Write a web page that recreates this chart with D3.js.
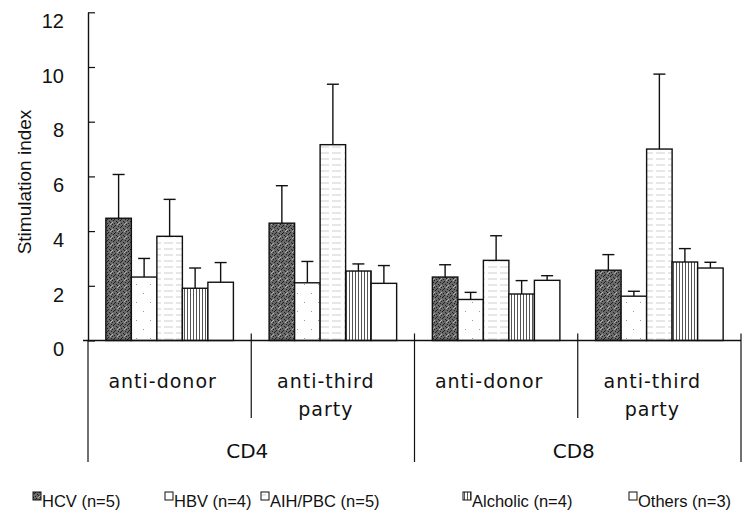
<!DOCTYPE html>
<html>
<head>
<meta charset="utf-8">
<script src="https://cdn.jsdelivr.net/npm/d3@7"></script>
<style>
  body { margin: 0; background: #fff; }
  svg { display: block; }
</style>
</head>
<body>
<div id="chart"></div>
<script>
//chart values
var markers = ["CD4", "CD8"];
var stimuli = ["anti-donor", "anti-third party"];
var stimulusLines = [["anti-donor"], ["anti-third", "party"]];
var seriesNames = ["HCV (n=5)", "HBV (n=4)", "AIH/PBC (n=5)", "Alcholic (n=4)", "Others (n=3)"];
var yTicks = [0, 2, 4, 6, 8, 10, 12];

//mean per cell: CD4 anti-donor, CD4 anti-third, CD8 anti-donor, CD8 anti-third
var meanHCV = [4.47, 4.29, 2.32, 2.57];
var meanHBV = [2.32, 2.11, 1.50, 1.62];
var meanAIH = [3.81, 7.16, 2.93, 7.00];
var meanAlc = [1.91, 2.54, 1.70, 2.87];
var meanOth = [2.13, 2.09, 2.20, 2.65];

//standard deviation (upper error bar)
var sdHCV = [1.60, 1.37, 0.45, 0.57];
var sdHBV = [0.68, 0.78, 0.26, 0.18];
var sdAIH = [1.35, 2.21, 0.90, 2.74];
var sdAlc = [0.74, 0.26, 0.49, 0.49];
var sdOth = [0.72, 0.65, 0.17, 0.21];

var means = [meanHCV, meanHBV, meanAIH, meanAlc, meanOth];
var sds = [sdHCV, sdHBV, sdAIH, sdAlc, sdOth];
var patternIds = ["pHCV", "pHBV", "pAIH", "pAlc", "pOth"];

//cell keys for the outer band scale
var cells = [];
markers.forEach(function(m){ stimuli.forEach(function(s){ cells.push(m + " " + s); }); });

var rows = [];
cells.forEach(function(c, i){
  seriesNames.forEach(function(s, j){
    rows.push({cell: c, series: s, k: j, mean: means[j][i], sd: sds[j][i]});
  });
});

var width = 755, height = 519;
var svg = d3.select("#chart").append("svg")
  .attr("width", width).attr("height", height)
  .style("font-family", "'Liberation Sans', Arial, sans-serif");

//fill patterns imitating the printed hatching
var defs = svg.append("defs");

var p1 = defs.append("pattern").attr("id", "pHCV").attr("patternUnits", "userSpaceOnUse")
  .attr("width", 7).attr("height", 7);
p1.append("rect").attr("width", 7).attr("height", 7).attr("fill", "#6a6a6a");
[[0,0],[3,1],[1,3],[4,4],[2,6],[6,2],[5,5],[2,2]].forEach(function(p){
  p1.append("rect").attr("x", p[0]).attr("y", p[1]).attr("width", 1).attr("height", 1).attr("fill", "#1e1e1e");
});
[[5,0],[0,5],[6,6]].forEach(function(p){
  p1.append("rect").attr("x", p[0]).attr("y", p[1]).attr("width", 1).attr("height", 1).attr("fill", "#b0b0b0");
});

var p2 = defs.append("pattern").attr("id", "pHBV").attr("patternUnits", "userSpaceOnUse")
  .attr("width", 14).attr("height", 18);
p2.append("rect").attr("width", 14).attr("height", 18).attr("fill", "#fff");
p2.append("rect").attr("x", 3).attr("y", 5).attr("width", 1).attr("height", 1).attr("fill", "#999");
p2.append("rect").attr("x", 10).attr("y", 14).attr("width", 1).attr("height", 1).attr("fill", "#999");

var p3 = defs.append("pattern").attr("id", "pAIH").attr("patternUnits", "userSpaceOnUse")
  .attr("width", 12).attr("height", 6);
p3.append("rect").attr("width", 12).attr("height", 6).attr("fill", "#fff");
p3.append("line").attr("x1", 0).attr("x2", 12).attr("y1", 3).attr("y2", 3)
  .attr("stroke", "#cfcfcf").attr("stroke-width", 1).attr("stroke-dasharray", "5,3");

var p4 = defs.append("pattern").attr("id", "pAlc").attr("patternUnits", "userSpaceOnUse")
  .attr("width", 3).attr("height", 3);
p4.append("rect").attr("width", 3).attr("height", 3).attr("fill", "#fff");
p4.append("rect").attr("x", 1).attr("width", 1).attr("height", 3).attr("fill", "#555");

defs.append("pattern").attr("id", "pOth").attr("patternUnits", "userSpaceOnUse")
  .attr("width", 4).attr("height", 4)
  .append("rect").attr("width", 4).attr("height", 4).attr("fill", "#fff");

//scales
var y = d3.scaleLinear().domain([0, 12]).range([340.5, 12.3]);
var x0 = d3.scaleBand().domain(cells).range([88, 741]).padding(0);
var x1 = d3.scaleBand().domain(seriesNames).range([0, x0.bandwidth()])
  .paddingInner(0).paddingOuter(0.7);

var base = y(0);

//y axis
var yAxis = svg.append("g")
  .attr("transform", "translate(88,0)")
  .call(d3.axisLeft(y).tickValues(yTicks).tickSize(-7).tickSizeOuter(0).tickPadding(24));
yAxis.select(".domain").attr("stroke", "#111").attr("stroke-width", 1.4);
yAxis.selectAll(".tick line").attr("stroke", "#111").attr("stroke-width", 1.2);
yAxis.selectAll(".tick text")
  .attr("dy", "0.76em")
  .attr("font-size", "20px")
  .attr("fill", "#111")
  .style("font-family", "'Liberation Sans', Arial, sans-serif");

svg.append("text")
  .attr("transform", "translate(31,182) rotate(-90)")
  .attr("text-anchor", "middle")
  .attr("font-size", "19px")
  .attr("fill", "#111")
  .text("Stimulation index");

//bars
var bars = svg.append("g").selectAll("g").data(rows).enter().append("g");

bars.append("line")
  .attr("x1", function(d){ return x0(d.cell) + x1(d.series) + x1.bandwidth() / 2; })
  .attr("x2", function(d){ return x0(d.cell) + x1(d.series) + x1.bandwidth() / 2; })
  .attr("y1", function(d){ return y(d.mean); })
  .attr("y2", function(d){ return y(d.mean + d.sd); })
  .attr("stroke", "#111").attr("stroke-width", 1.4);

bars.append("line")
  .attr("x1", function(d){ return x0(d.cell) + x1(d.series) + x1.bandwidth() / 2 - 6; })
  .attr("x2", function(d){ return x0(d.cell) + x1(d.series) + x1.bandwidth() / 2 + 6; })
  .attr("y1", function(d){ return y(d.mean + d.sd); })
  .attr("y2", function(d){ return y(d.mean + d.sd); })
  .attr("stroke", "#111").attr("stroke-width", 1.4);

bars.append("rect")
  .attr("x", function(d){ return x0(d.cell) + x1(d.series); })
  .attr("y", function(d){ return y(d.mean); })
  .attr("width", x1.bandwidth())
  .attr("height", function(d){ return base - y(d.mean); })
  .attr("fill", function(d){ return "url(#" + patternIds[d.k] + ")"; })
  .attr("stroke", "#111").attr("stroke-width", 1.4);

//baseline
svg.append("line")
  .attr("x1", 83).attr("x2", 741).attr("y1", base).attr("y2", base)
  .attr("stroke", "#111").attr("stroke-width", 1.4);

//category separators under the axis
var lines = svg.append("g").attr("stroke", "#111").attr("stroke-width", 1.2);
cells.forEach(function(c, i){
  var xs = x0(c);
  if (i % 2 == 1) {
    //between anti-donor and anti-third party
    lines.append("line").attr("x1", xs).attr("x2", xs).attr("y1", base - 7).attr("y2", 418);
  } else {
    lines.append("line").attr("x1", xs).attr("x2", xs).attr("y1", i == 0 ? base : base - 7).attr("y2", 462);
  }
});
lines.append("line").attr("x1", 741).attr("x2", 741).attr("y1", base - 7).attr("y2", 462);

//stimulus labels
cells.forEach(function(c, i){
  var t = svg.append("text")
    .attr("text-anchor", "middle")
    .attr("font-size", "19px")
    .attr("letter-spacing", "1px")
    .attr("fill", "#111")
    .style("font-family", "'DejaVu Sans', sans-serif");
  stimulusLines[i % 2].forEach(function(s, k){
    t.append("tspan")
      .attr("x", x0(c) + x0.bandwidth() / 2 - 7)
      .attr("y", 388 + k * 28)
      .text(s);
  });
});

//marker labels
markers.forEach(function(m, i){
  var left = x0(cells[i * 2]);
  var right = x0(cells[i * 2 + 1]) + x0.bandwidth();
  svg.append("text")
    .attr("x", (left + right) / 2 - 4)
    .attr("y", 458)
    .attr("text-anchor", "middle")
    .attr("font-size", "20px")
    .attr("fill", "#111")
    .style("font-family", "'DejaVu Sans', sans-serif")
    .text(m);
});

//legend
var legendX = [33, 165, 261, 463, 629];
var legend = svg.append("g").selectAll("g").data(seriesNames).enter().append("g")
  .attr("transform", function(d, i){ return "translate(" + legendX[i] + ",0)"; });
legend.append("rect")
  .attr("x", 0).attr("y", 492).attr("width", 8).attr("height", 8)
  .attr("fill", function(d, i){ return "url(#" + patternIds[i] + ")"; })
  .attr("stroke", "#111").attr("stroke-width", 1);
legend.append("text")
  .attr("x", 9).attr("y", 507)
  .attr("font-size", "16.5px")
  .attr("fill", "#111")
  .text(function(d){ return d; });
</script>
</body>
</html>
